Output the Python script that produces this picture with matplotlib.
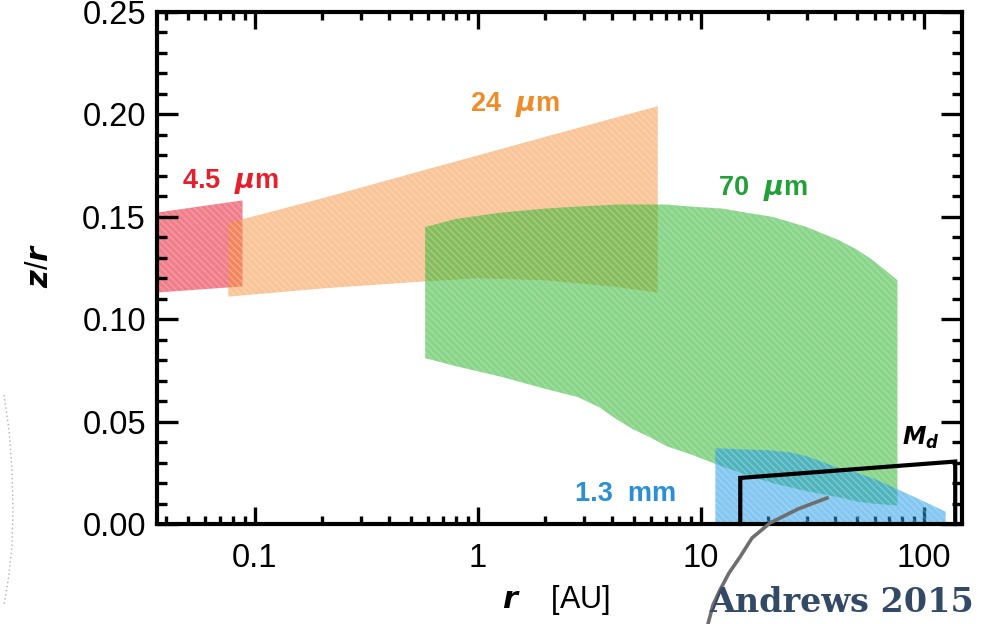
import matplotlib
matplotlib.use("Agg")
import matplotlib.pyplot as plt
from matplotlib.lines import Line2D
import numpy as np

# ---------------- data ----------------
red_r = [0.036, 0.088]
red_top = [0.152, 0.158]
red_bot = [0.113, 0.116]

orange_r = [0.076, 0.2, 0.5, 1.0, 2.0, 4.0, 6.4]
orange_top = [0.147, 0.159, 0.171, 0.180, 0.189, 0.198, 0.204]
orange_bot = [0.111, 0.115, 0.118, 0.120, 0.119, 0.116, 0.113]

green_r = [0.58, 0.8, 1.26, 2.0, 2.8, 3.5, 4.2, 5.0, 6.0, 7.0, 9.0, 12.5, 16, 20.9,
           29.8, 41.7, 50, 58.6, 67, 76]
green_top = [0.145, 0.149, 0.152, 0.154, 0.155, 0.1555, 0.156, 0.156, 0.156, 0.156,
             0.155, 0.154, 0.152, 0.150, 0.145, 0.1385, 0.134, 0.129, 0.124, 0.119]
green_bot = [0.081, 0.077, 0.072, 0.066, 0.062, 0.057, 0.051, 0.046, 0.042, 0.038,
             0.034, 0.028, 0.024, 0.020, 0.016, 0.013, 0.011, 0.010, 0.0095, 0.009]

blue_r = [11.6, 15, 20, 25, 30, 40, 50, 60, 76, 100, 125]
blue_top = [0.037, 0.0365, 0.036, 0.035, 0.033, 0.028, 0.025, 0.022, 0.017, 0.011, 0.006]

md_r = [15.0, 15.0, 138.0, 138.0]
md_z = [0.0, 0.0225, 0.0305, 0.0]

band_labels = ["4.5  $\\mu$m", "24  $\\mu$m", "70  $\\mu$m", "1.3  mm"]
band_label_r = [0.047, 0.92, 11.9, 2.72]
band_label_z = [0.167, 0.205, 0.164, 0.0146]
band_label_colors = ["#e3202c", "#f08c28", "#22a038", "#2a8fd6"]

xticks = [0.1, 1, 10, 100]
xticklabels = ["0.1", "1", "10", "100"]
yticks = [0.0, 0.05, 0.10, 0.15, 0.20, 0.25]
yticklabels = ["0.00", "0.05", "0.10", "0.15", "0.20", "0.25"]

# ---------------- style ----------------
plt.rcParams['font.family'] = ['Liberation Sans', 'DejaVu Sans']
plt.rcParams['mathtext.fontset'] = 'custom'
plt.rcParams['mathtext.it'] = 'DejaVu Sans:italic:bold'
plt.rcParams['mathtext.rm'] = 'Liberation Sans'
plt.rcParams['hatch.linewidth'] = 1.0

W, H = 982, 624
fig = plt.figure(figsize=(W / 100, H / 100), dpi=100)
ax = fig.add_axes([157 / W, 1 - 524 / H, (962 - 157) / W, (524 - 12) / H])

ax.set_xscale('log')
ax.set_xlim(0.0364, 148)
ax.set_ylim(0, 0.25)

hatch_ec = (1, 1, 1, 0.22)

def band(x, lo, hi, color, alpha, z):
    ax.fill_between(x, lo, hi, facecolor=color, alpha=alpha, linewidth=0, zorder=z)
    ax.fill_between(x, lo, hi, facecolor='none', edgecolor=hatch_ec, hatch='\\\\\\\\\\',
                    linewidth=0, zorder=z + 0.1)

band(red_r, red_bot, red_top, (0.90, 0.16, 0.24), 0.60, 1)
band(orange_r, orange_bot, orange_top, (0.96, 0.55, 0.20), 0.50, 2)
band(green_r, green_bot, green_top, (0.16, 0.70, 0.16), 0.55, 3)
band(blue_r, np.zeros(len(blue_r)), blue_top, (0.12, 0.60, 0.90), 0.55, 4)

ax.plot(md_r, md_z, color='black', lw=3.0, zorder=6, solid_joinstyle='miter', clip_on=False)
ax.text(80, 0.042, "$M_d$", fontsize=17, color='black', ha='left', va='center', zorder=7)

for lab, r, z, c in zip(band_labels, band_label_r, band_label_z, band_label_colors):
    ax.text(r, z, lab, color=c, fontsize=19.5, fontweight='bold', ha='left', va='center', zorder=7)

# axes styling
for s in ax.spines.values():
    s.set_linewidth(3.0)
    s.set_zorder(10)
ax.set_xticks(xticks)
ax.set_xticklabels(xticklabels)
ax.set_yticks(yticks)
ax.set_yticklabels(yticklabels)
ax.yaxis.set_minor_locator(matplotlib.ticker.MultipleLocator(0.01))
ax.xaxis.set_minor_locator(matplotlib.ticker.LogLocator(base=10, subs=np.arange(2, 10)))
ax.xaxis.set_minor_formatter(matplotlib.ticker.NullFormatter())
ax.tick_params(which='both', direction='in', top=True, right=True, width=2.4, labelsize=23.5)
ax.tick_params(axis='y', which='major', length=15, pad=8)
ax.tick_params(axis='y', which='minor', length=7)
ax.tick_params(axis='x', which='major', length=12, pad=14)
ax.tick_params(axis='x', which='minor', length=6)

fig.text(40 / W, 1 - 265 / H, "$z/r$", rotation=90, fontsize=22, ha='center', va='center')
fig.text(556 / W, 1 - 600 / H, "$r$    [AU]", fontsize=22, ha='center', va='center')

# decorations
fig.text(842 / W, 1 - 603 / H, "Andrews 2015", fontsize=24, fontweight='bold',
         family='DejaVu Serif', color='#334a66', ha='center', va='center')
cx = np.array([827, 798, 770, 752, 740, 729, 720, 713, 708])
cy = np.array([498, 509, 523, 538, 557, 573, 590, 605, 624])
fig.add_artist(Line2D(cx / W, 1 - cy / H, transform=fig.transFigure, color='#6e6e6e', lw=2.6))
lx = np.array([4, 9, 12, 13, 12, 9, 4])
ly = np.array([395, 430, 470, 510, 545, 575, 605])
fig.add_artist(Line2D(lx / W, 1 - ly / H, transform=fig.transFigure, color='#b0b0b0', lw=1.0,
                      linestyle=(0, (1, 2))))

fig.savefig("out.png", dpi=100)
